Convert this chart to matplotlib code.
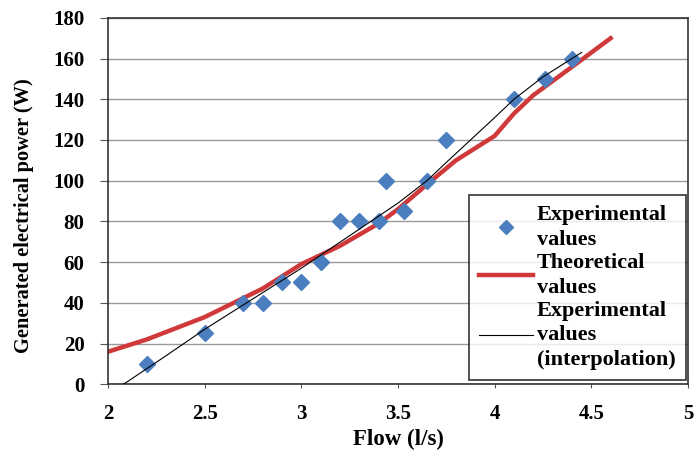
import matplotlib
matplotlib.use('agg')
import matplotlib.pyplot as plt

plt.rcParams['font.family'] = ['Liberation Serif', 'DejaVu Serif']
plt.rcParams['font.weight'] = 'bold'

# experimental measurements
exp_flow = [2.2, 2.5, 2.7, 2.8, 2.9, 3.0, 3.1, 3.2, 3.3, 3.4, 3.44, 3.53, 3.65, 3.75, 4.1, 4.26, 4.4]
exp_power = [10, 25, 40, 40, 50, 50, 60, 80, 80, 80, 100, 85, 100, 120, 140, 150, 160]

# theoretical curve
theo_flow = [2.0, 2.2, 2.5, 2.8, 3.0, 3.2, 3.4, 3.5, 3.66, 3.8, 4.0, 4.1, 4.2, 4.43, 4.6]
theo_power = [16, 22, 33, 47, 59, 68, 79, 86, 99, 110, 122, 133, 142, 158, 170]

# interpolation of the experimental values
interp_flow = [2.08, 2.3, 2.5, 2.75, 3.0, 3.25, 3.5, 3.65, 3.75, 4.0, 4.1, 4.25, 4.45]
interp_power = [0, 14, 27, 42, 57, 73, 89, 100, 109, 131, 140, 151, 163]

fig = plt.figure(figsize=(6.97, 4.58), dpi=100)
ax = fig.add_axes([0.155, 0.161, 0.832, 0.8])

ax.plot(exp_flow, exp_power, linestyle='none', marker='D', markersize=8,
        color='#4a7ebf', label='Experimental\nvalues', zorder=3)
ax.plot(theo_flow, theo_power, color='#d0393a', lw=3.2,
        label='Theoretical\nvalues', zorder=2)
ax.plot(interp_flow, interp_power, color='black', lw=0.8,
        label='Experimental\nvalues\n(interpolation)', zorder=4)

ax.set_xlim(2, 5)
ax.set_ylim(0, 180)
ax.set_xticks([2, 2.5, 3, 3.5, 4, 4.5, 5])
ax.set_xticklabels(['2', '2.5', '3', '3.5', '4', '4.5', '5'])
ax.set_yticks(range(0, 181, 20))
ax.tick_params(labelsize=15, color='#555555')
ax.tick_params(axis='y', length=6, pad=11)
ax.tick_params(axis='x', length=3, pad=11)
ax.yaxis.grid(True, color='#9a9a9a', lw=1)
ax.set_axisbelow(True)
for s in ax.spines.values():
    s.set_color('#333333')
    s.set_linewidth(1.2)

ax.set_xlabel('Flow (l/s)', fontsize=16.5, fontweight='bold', labelpad=4)
ax.set_ylabel('Generated electrical power (W)', fontsize=14.7, fontweight='bold')
ax.yaxis.set_label_coords(-0.128, 0.46)

leg = ax.legend(loc='lower right', bbox_to_anchor=(1.0, 0.006), fontsize=16,
                frameon=True, fancybox=False, edgecolor='black',
                handlelength=2.4, labelspacing=0.15, borderpad=0.45,
                handletextpad=0.2, borderaxespad=0.1, markerscale=0.85)
leg.get_frame().set_linewidth(1.2)
for t in leg.get_texts():
    t.set_linespacing(1.3)

fig.savefig('out.png', dpi=100)
